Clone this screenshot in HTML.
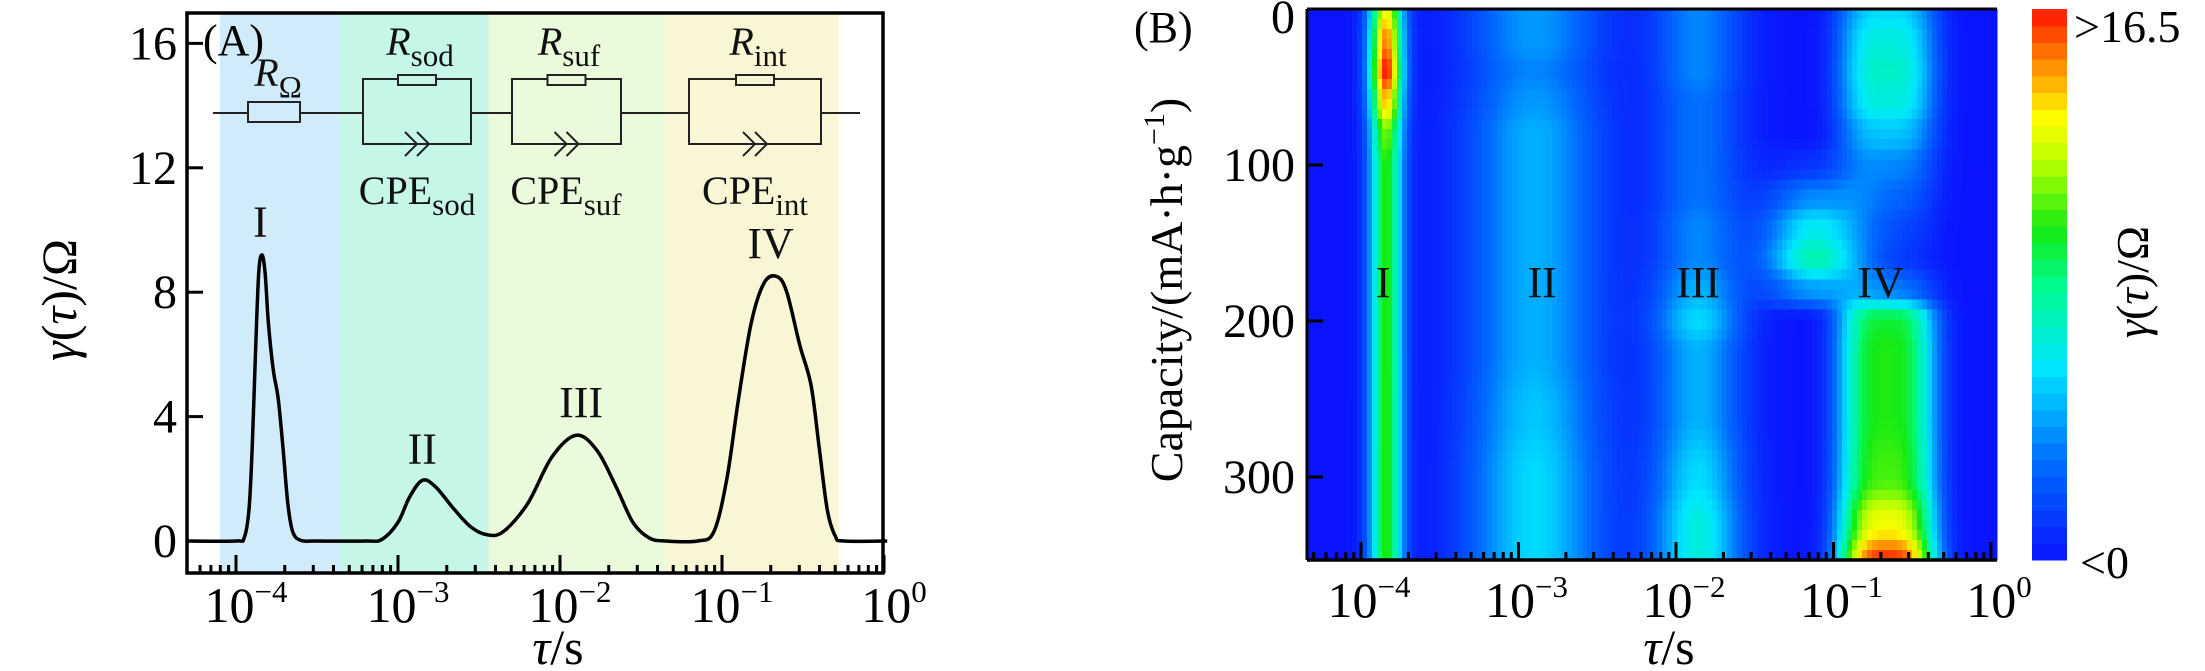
<!DOCTYPE html>
<html><head><meta charset="utf-8"><style>
html,body{margin:0;padding:0;background:#fff;}
svg{display:block;font-family:"Liberation Serif","DejaVu Serif",serif;}
</style></head><body>
<svg id="root" width="2205" height="671" viewBox="0 0 2205 671" xmlns="http://www.w3.org/2000/svg">
<g id="left"></g>
<g id="right"></g>
</svg>
<script>
// ---------- Panel A data ----------
const curveLogTau = [-4.3,-4.0,-3.95,-3.92,-3.9,-3.88,-3.86,-3.84,-3.82,-3.8,-3.77,-3.74,-3.71,-3.68,-3.65,-3.6,-3.5,-3.2,-3.1,-3.0,-2.93,-2.85,-2.77,-2.65,-2.55,-2.45,-2.35,-2.2,-2.05,-1.9,-1.77,-1.65,-1.55,-1.45,-1.35,-1.15,-1.05,-0.97,-0.9,-0.82,-0.74,-0.66,-0.6,-0.52,-0.45,-0.4,-0.35,-0.3,-0.25,0.02];
const curveGamma  = [0,0,0.1,1,3,6,8.6,9.2,8.6,7,5.5,4.6,3,1.2,0.3,0.02,0,0,0.05,0.6,1.4,1.95,1.75,1.0,0.45,0.2,0.3,1.2,2.7,3.4,2.9,1.7,0.6,0.1,0,0,0.3,2,4.5,7,8.3,8.5,8,6.3,5,3,1,0.15,0,0];
const bandStart = [-4.1,-3.36,-2.44,-1.35];
const bandEnd   = [-3.36,-2.44,-1.35,-0.28];
const bandColor = ['#d0ecfb','#c5f6e8','#eafbdb','#f9f6d6'];
const yTicksA = [0,4,8,12,16];
const xDecades = [-4,-3,-2,-1,0];
const peakLabelsA = ['I','II','III','IV'];
const peakLabelTau = [-3.85,-2.85,-1.87,-0.7];
const peakLabelGamma = [9.6,2.3,3.8,8.9];

// ---------- Panel B data ----------
const caps   = [0,20,40,60,80,100,120,140,160,180,200,220,260,300,330,357];
const ampI   = [13,15,16.5,14,11,10,10,10,10,10,10,10,10,10,10,10];
const ampII  = [4,4,3.5,4,4.5,4.5,4.5,4.5,4.5,4.5,4.5,4.5,5,5.5,5.5,5.5];
const ampIII = [3.5,3.5,3.5,3,3,3,3,3.5,3.5,4.5,5.5,4.5,4.5,5.5,6.5,6.5];
const ampIV  = [5.5,6.5,7,6.5,5,3.5,2.5,1.5,1,3,9.5,10,10,10.5,13,16.5];
const ampBump= [0,0,0,0,0,1,3.5,6,7.5,4,0,0,0,0,0,0];
const centerTau = [-3.84,-2.9,-1.86,-0.66,-1.12];
const widthTau  = [0.075,0.3,0.2,0.25,0.22];
const yTicksB = [0,100,200,300];
const heatLabels = ['I','II','III','IV'];
const heatLabelTau = [-3.86,-2.85,-1.86,-0.7];

const NS='http://www.w3.org/2000/svg';
function mk(tag,attrs,parent,text){const e=document.createElementNS(NS,tag);for(const k in attrs)e.setAttribute(k,attrs[k]);if(text!==undefined)e.textContent=text;parent.appendChild(e);return e;}

// ---------- Panel A ----------
const L=document.getElementById('left');
const ax={l:187,r:883,t:13,b:573};
const xA=v=>236+(v+4)*162;
const yA=v=>541-v*31.1;
for(let i=0;i<bandStart.length;i++){
  const r=mk('rect',{x:xA(bandStart[i]),y:ax.t,width:xA(bandEnd[i])-xA(bandStart[i]),height:ax.b-ax.t,fill:bandColor[i]},L);
  
  
}
const C=mk('g',{stroke:'#222','stroke-width':2,fill:'none'},L);

mk('line',{x1:213,y1:113,x2:860,y2:113},C);
mk('rect',{x:248,y:102,width:52,height:20,fill:'#d0ecfb'},C);
const blocks=[[363,471],[512,621],[689,821]];
const bfill=['#c5f6e8','#eafbdb','#f9f6d6'];
blocks.forEach((b,i)=>{
  const cx=(b[0]+b[1])/2;
  mk('rect',{x:b[0],y:79,width:b[1]-b[0],height:65,fill:bfill[i]},C);
  mk('rect',{x:cx-19,y:75,width:38,height:10,fill:bfill[i]},C);
  mk('path',{d:`M${cx-12} 132 L${cx} 144 L${cx-12} 156 M${cx} 132 L${cx+12} 144 L${cx} 156`},C);
});
const T=mk('g',{'font-size':40,fill:'#111','text-anchor':'middle'},L);
function sublabel(x,y,main,sub,italic){
  const t=mk('text',{x:x,y:y},T);
  mk('tspan',{'font-style':italic?'italic':'normal'},t,main);
  mk('tspan',{dy:11,'font-size':31},t,sub);
  return t;
}
let tt=sublabel(278,86,'R','Ω',true);
tt=sublabel(420,55,'R','sod',true);
tt=sublabel(569,55,'R','suf',true);
tt=sublabel(758,55,'R','int',true);
tt=sublabel(417,204,'CPE','sod',false);
tt=sublabel(566,204,'CPE','suf',false);
tt=sublabel(755,204,'CPE','int',false);
const pts=curveLogTau.map((v,i)=>[xA(v),yA(curveGamma[i])]);
let d=`M${pts[0][0]} ${pts[0][1]}`;
for(let i=0;i<pts.length-1;i++){
  const p0=pts[Math.max(0,i-1)],p1=pts[i],p2=pts[i+1],p3=pts[Math.min(pts.length-1,i+2)];
  const c1=[p1[0]+(p2[0]-p0[0])/6,p1[1]+(p2[1]-p0[1])/6],c2=[p2[0]-(p3[0]-p1[0])/6,p2[1]-(p3[1]-p1[1])/6];
  d+=` C${c1[0]} ${c1[1]} ${c2[0]} ${c2[1]} ${p2[0]} ${p2[1]}`;
}
const cur=mk('path',{d:d,fill:'none',stroke:'#000','stroke-width':3.5,'stroke-linejoin':'round'},L);

peakLabelsA.forEach((s,i)=>{
  const t=mk('text',{x:xA(peakLabelTau[i]),y:yA(peakLabelGamma[i])-6,'font-size':44,'text-anchor':'middle',fill:'#111'},L,s);
  
});
const fr=mk('rect',{x:ax.l,y:ax.t,width:ax.r-ax.l,height:ax.b-ax.t,fill:'none',stroke:'#000','stroke-width':3.5},L);

yTicksA.forEach(v=>{
  mk('line',{x1:ax.l,x2:ax.l+16,y1:yA(v),y2:yA(v),stroke:'#000','stroke-width':3},L);
  const t=mk('text',{x:ax.l-10,y:yA(v)+16,'font-size':48,'text-anchor':'end'},L,v);
  
});
function logTicks(G,xf,lo,hi,yb,big,small){
  for(let dcd=-5;dcd<=0;dcd++){for(let m=1;m<10;m++){const v=dcd+Math.log10(m);if(v<lo||v>hi)continue;
    mk('line',{x1:xf(v),x2:xf(v),y1:yb,y2:yb-(m===1?big:small),stroke:'#000','stroke-width':3},G);}}
}
logTicks(L,xA,-4.3,0.001,ax.b,18,8);
function decLabel(G,x,y,e,fs){
  const t=mk('text',{x:x,y:y,'font-size':fs,'text-anchor':'middle'},G);
  mk('tspan',{},t,'10');mk('tspan',{dy:-20,'font-size':fs*0.62},t,e===0?'0':'−'+(-e));
  
}
xDecades.forEach(e=>decLabel(L,xA(e)+10,622,e,50));
let t2=mk('text',{x:558,y:664,'font-size':50,'text-anchor':'middle'},L);
mk('tspan',{'font-style':'italic'},t2,'τ');mk('tspan',{},t2,'/s');

t2=mk('text',{transform:'translate(76,300) rotate(-90)','font-size':50,'text-anchor':'middle'},L);
mk('tspan',{'font-style':'italic'},t2,'γ');mk('tspan',{},t2,'(');mk('tspan',{'font-style':'italic'},t2,'τ');mk('tspan',{},t2,')/Ω');

t2=mk('text',{x:203,y:55,'font-size':44},L,'(A)');


// ---------- Panel B ----------
const R=document.getElementById('right');
const bx={l:1307,r:1997,t:9,b:560};
const xB=v=>1361+(v+4)*157.5;
const yB=c=>9+c*1.56;
const stops=[[0,10,20,255],[0.18,0,110,255],[0.35,0,230,255],[0.5,0,250,140],[0.6,20,235,20],[0.72,180,255,0],[0.8,255,255,0],[0.9,255,140,0],[1,255,20,0]];
function cmap(v){let t=Math.max(0,Math.min(1,v/16.5));for(let i=1;i<stops.length;i++){if(t<=stops[i][0]){const a=stops[i-1],b=stops[i],f=(t-a[0])/(b[0]-a[0]);
  return `rgb(${Math.round(a[1]+f*(b[1]-a[1]))},${Math.round(a[2]+f*(b[2]-a[2]))},${Math.round(a[3]+f*(b[3]-a[3]))})`;}}return 'rgb(255,20,0)';}
function interp(arr,c){for(let i=1;i<caps.length;i++){if(c<=caps[i]){const f=(c-caps[i-1])/(caps[i]-caps[i-1]);const s=f*f*(3-2*f);return arr[i-1]+s*(arr[i]-arr[i-1]);}}return arr[arr.length-1];}
const HG=mk('g',{'shape-rendering':'crispEdges'},R);

const NC=138,NR=55;const cw=(bx.r-bx.l)/NC,rh=(bx.b-bx.t)/NR;
const capMax=(bx.b-9)/1.56, tauMin=(bx.l-1361)/157.5-4, tauMax=(bx.r-1361)/157.5-4;
const amps=[ampI,ampII,ampIII,ampIV,ampBump];
for(let j=0;j<NR;j++){
  const c=(j+0.5)/NR*capMax;
  const a=amps.map(arr=>interp(arr,c));
  for(let i=0;i<NC;i++){
    const lt=tauMin+(i+0.5)/NC*(tauMax-tauMin);
    let v=0;for(let k=0;k<5;k++){const z=(lt-centerTau[k])/widthTau[k];v+=a[k]*Math.exp(-0.5*(k===3?Math.pow(z*z,1.6):z*z));}
    mk('rect',{x:(bx.l+i*cw).toFixed(2),y:(bx.t+j*rh).toFixed(2),width:(cw+0.6).toFixed(2),height:(rh+0.6).toFixed(2),fill:cmap(v)},HG);
  }
}
heatLabels.forEach((s,i)=>{
  const t=mk('text',{x:xB(heatLabelTau[i]),y:297,'font-size':44,'text-anchor':'middle',fill:'#111'},R,s);
  
});
mk('line',{x1:bx.l,x2:bx.r,y1:bx.t,y2:bx.t,stroke:'#000','stroke-width':3},R);
mk('line',{x1:bx.l,x2:bx.r,y1:bx.b,y2:bx.b,stroke:'#000','stroke-width':3.5},R);
mk('line',{x1:bx.l,x2:bx.l,y1:bx.t,y2:bx.b,stroke:'#000','stroke-width':3},R);
yTicksB.forEach(v=>{
  mk('line',{x1:bx.l,x2:bx.l+16,y1:yB(v),y2:yB(v),stroke:'#000','stroke-width':3},R);
  const t=mk('text',{x:bx.l-12,y:yB(v)+(v===0?24:16),'font-size':48,'text-anchor':'end'},R,v);
  
});
logTicks(R,xB,tauMin,0.001,bx.b,18,8);
xDecades.forEach(e=>decLabel(R,xB(e)+8,617,e,50));
t2=mk('text',{x:1669,y:664,'font-size':50,'text-anchor':'middle'},R);
mk('tspan',{'font-style':'italic'},t2,'τ');mk('tspan',{},t2,'/s');

t2=mk('text',{transform:'translate(1182,290) rotate(-90)','font-size':46,'text-anchor':'middle'},R);
mk('tspan',{},t2,'Capacity/(mA·h·g');mk('tspan',{dy:-18,'font-size':30},t2,'−1');mk('tspan',{dy:18},t2,')');

t2=mk('text',{x:1134,y:42,'font-size':44},R,'(B)');

const CB=mk('g',{'shape-rendering':'crispEdges'},R);

const NS2=33,cbT=9,cbB=560;
for(let k=0;k<NS2;k++){
  const v=(k+0.5)/NS2*16.5;
  mk('rect',{x:2032,y:(cbB-(k+1)*(cbB-cbT)/NS2).toFixed(2),width:35,height:((cbB-cbT)/NS2+0.6).toFixed(2),fill:cmap(v)},CB);
}
t2=mk('text',{x:2074,y:42,'font-size':46},R,'>16.5');

t2=mk('text',{x:2080,y:578,'font-size':46},R,'<0');

t2=mk('text',{transform:'translate(2148,282) rotate(-90)','font-size':46,'text-anchor':'middle'},R);
mk('tspan',{'font-style':'italic'},t2,'γ');mk('tspan',{},t2,'(');mk('tspan',{'font-style':'italic'},t2,'τ');mk('tspan',{},t2,')/Ω');

</script>
</body></html>
